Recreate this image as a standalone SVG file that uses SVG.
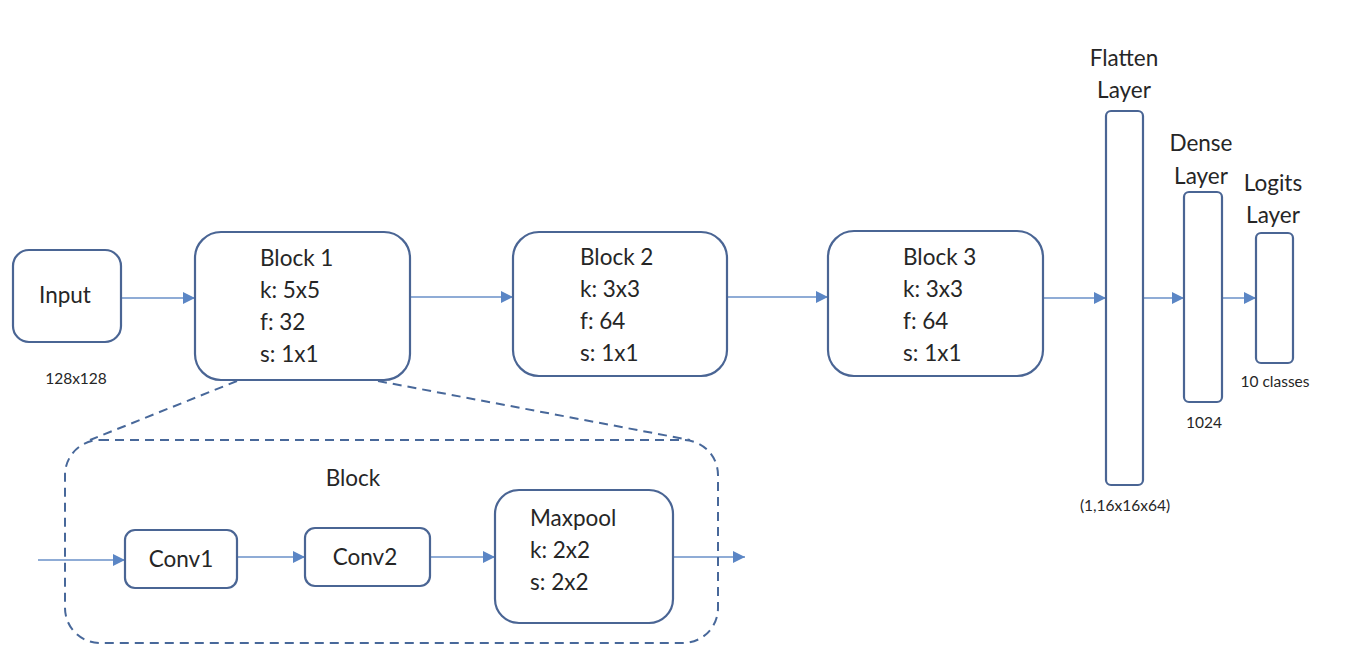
<svg xmlns="http://www.w3.org/2000/svg" width="1346" height="671" viewBox="0 0 1346 671">
<style>
.box{fill:#fff;stroke:#4a6594;stroke-width:2.2}
.t{font-family:Lato,"Liberation Sans",sans-serif;font-size:22.5px;fill:#262626}
.s{font-family:Lato,"Liberation Sans",sans-serif;font-size:15.5px;fill:#262626}
.c{fill:none;stroke:#6a90c8;stroke-width:1.5}
.d{fill:none;stroke:#48689a;stroke-width:2;stroke-dasharray:9 6}
</style>
<defs>
<marker id="ah" viewBox="0 0 10 10" refX="10" refY="5" markerWidth="12" markerHeight="12" markerUnits="userSpaceOnUse" orient="auto">
<path d="M0,0 L10,5 L0,10 z" fill="#5b86c5"/>
</marker>
</defs>
<rect width="1346" height="671" fill="#fff"/>
<g id="connectors">
<line class="c" x1="121" y1="298" x2="195" y2="298" marker-end="url(#ah)"/>
<line class="c" x1="410" y1="297" x2="513" y2="297" marker-end="url(#ah)"/>
<line class="c" x1="727" y1="297" x2="828" y2="297" marker-end="url(#ah)"/>
<line class="c" x1="1043" y1="298" x2="1106" y2="298" marker-end="url(#ah)"/>
<line class="c" x1="1143" y1="298" x2="1184" y2="298" marker-end="url(#ah)"/>
<line class="c" x1="1222" y1="298" x2="1256" y2="298" marker-end="url(#ah)"/>
<line class="c" x1="38" y1="560" x2="125" y2="560" marker-end="url(#ah)"/>
<line class="c" x1="237" y1="557" x2="305" y2="557" marker-end="url(#ah)"/>
<line class="c" x1="430" y1="557" x2="495" y2="557" marker-end="url(#ah)"/>
<line class="c" x1="673" y1="557" x2="745" y2="557" marker-end="url(#ah)"/>
<line class="d" x1="237" y1="381" x2="90" y2="440"/>
<line class="d" x1="378" y1="381" x2="690" y2="440"/>
</g>
<g id="input">
<rect class="box" x="13" y="250" width="108" height="92" rx="16"/>
<text class="t" x="65" y="303" text-anchor="middle">Input</text>
<text class="s" x="76" y="384" text-anchor="middle">128x128</text>
</g>
<g id="block1">
<rect class="box" x="195" y="232" width="215" height="148" rx="26"/>
<text class="t" x="260" y="266">Block 1</text>
<text class="t" x="260" y="298">k: 5x5</text>
<text class="t" x="260" y="330">f: 32</text>
<text class="t" x="260" y="362">s: 1x1</text>
</g>
<g id="block2">
<rect class="box" x="513" y="232" width="214" height="144" rx="26"/>
<text class="t" x="580" y="265">Block 2</text>
<text class="t" x="580" y="297">k: 3x3</text>
<text class="t" x="580" y="329">f: 64</text>
<text class="t" x="580" y="361">s: 1x1</text>
</g>
<g id="block3">
<rect class="box" x="828" y="231" width="215" height="145" rx="26"/>
<text class="t" x="903" y="265">Block 3</text>
<text class="t" x="903" y="297">k: 3x3</text>
<text class="t" x="903" y="329">f: 64</text>
<text class="t" x="903" y="361">s: 1x1</text>
</g>
<g id="flatten">
<text class="t" x="1124" y="66" text-anchor="middle">Flatten</text>
<text class="t" x="1124" y="98" text-anchor="middle">Layer</text>
<rect class="box" x="1106" y="111" width="37" height="374" rx="5"/>
<text class="s" x="1125" y="511" text-anchor="middle">(1,16x16x64)</text>
</g>
<g id="dense">
<text class="t" x="1201" y="151" text-anchor="middle">Dense</text>
<text class="t" x="1201" y="184" text-anchor="middle">Layer</text>
<rect class="box" x="1184" y="192" width="38" height="210" rx="5"/>
<text class="s" x="1204" y="428" text-anchor="middle">1024</text>
</g>
<g id="logits">
<text class="t" x="1273" y="191" text-anchor="middle">Logits</text>
<text class="t" x="1273" y="223" text-anchor="middle">Layer</text>
<rect class="box" x="1256" y="233" width="37" height="130" rx="5"/>
<text class="s" x="1275" y="387" text-anchor="middle">10 classes</text>
</g>
<g id="block-detail">
<rect class="d" x="65" y="440" width="653" height="203" rx="35"/>
<text class="t" x="353" y="486" text-anchor="middle">Block</text>
</g>
<g id="conv1">
<rect class="box" x="125" y="530" width="112" height="58" rx="10"/>
<text class="t" x="181" y="567" text-anchor="middle">Conv1</text>
</g>
<g id="conv2">
<rect class="box" x="305" y="528" width="125" height="58" rx="10"/>
<text class="t" x="365" y="565" text-anchor="middle">Conv2</text>
</g>
<g id="maxpool">
<rect class="box" x="495" y="490" width="178" height="133" rx="24"/>
<text class="t" x="530" y="526">Maxpool</text>
<text class="t" x="530" y="558">k: 2x2</text>
<text class="t" x="530" y="590">s: 2x2</text>
</g>
</svg>
